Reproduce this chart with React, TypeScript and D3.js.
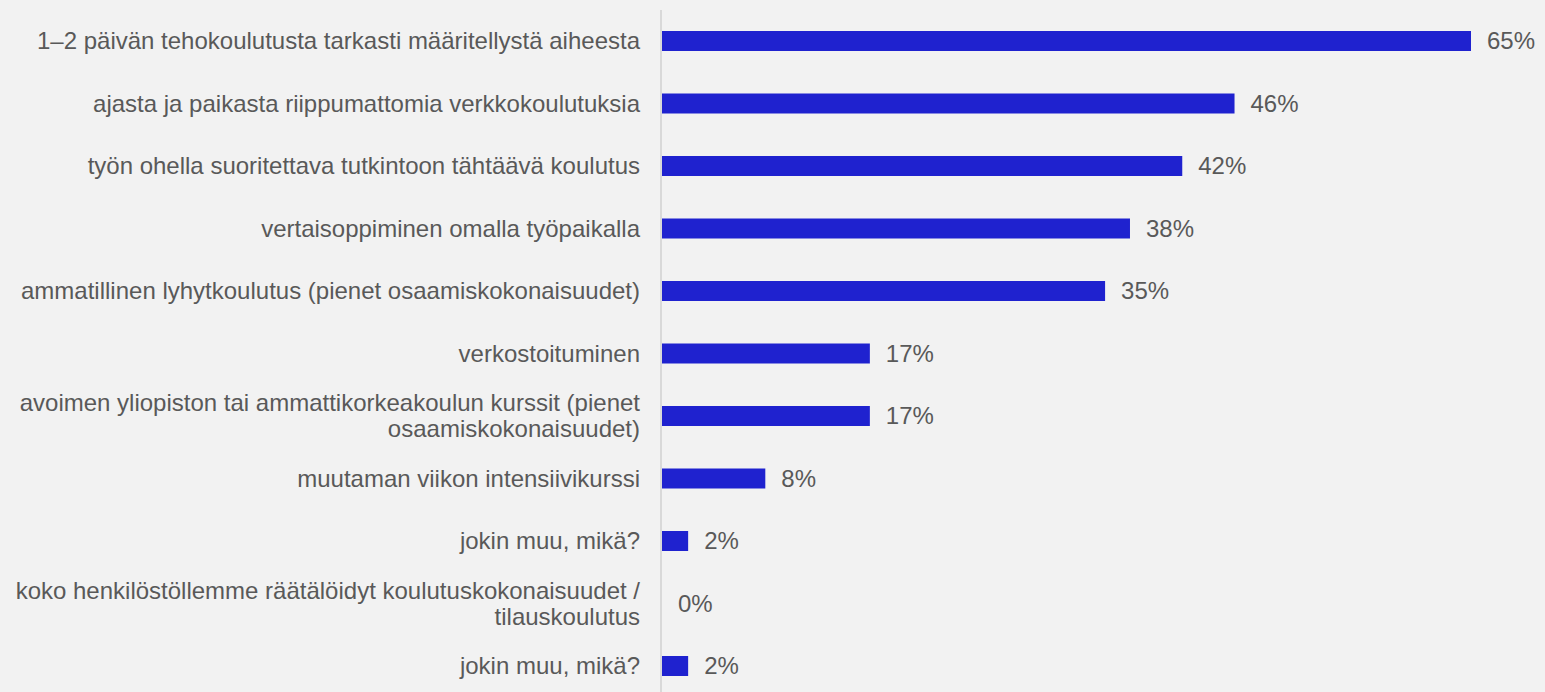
import React from "react";
import * as d3 from "d3";

const categories: string[][] = [
  ["1–2 päivän tehokoulutusta tarkasti määritellystä aiheesta"],
  ["ajasta ja paikasta riippumattomia verkkokoulutuksia"],
  ["työn ohella suoritettava tutkintoon tähtäävä koulutus"],
  ["vertaisoppiminen omalla työpaikalla"],
  ["ammatillinen lyhytkoulutus (pienet osaamiskokonaisuudet)"],
  ["verkostoituminen"],
  ["avoimen yliopiston tai ammattikorkeakoulun kurssit (pienet", "osaamiskokonaisuudet)"],
  ["muutaman viikon intensiivikurssi"],
  ["jokin muu, mikä?"],
  ["koko henkilöstöllemme räätälöidyt koulutuskokonaisuudet /", "tilauskoulutus"],
  ["jokin muu, mikä?"],
];
// bar lengths
const values: number[] = [65, 46, 41.8, 37.6, 35.6, 16.7, 16.7, 8.3, 2.1, 0, 2.1];
// data labels as printed
const valueLabels: string[] = ["65%", "46%", "42%", "38%", "35%", "17%", "17%", "8%", "2%", "0%", "2%"];

const W = 1545;
const H = 692;

export default function App() {
  const idx = values.map((_, i) => i);
  const y = d3.scalePoint<number>().domain(idx).range([41, 666]);
  const x = d3.scaleLinear().domain([0, 65]).range([662, 1471]);
  const barH = 20;
  const font = "'Liberation Sans', Arial, sans-serif";
  const textColor = "#595959";
  const lineH = 26;
  return (
    <svg
      width={W}
      height={H}
      style={{ position: "absolute", left: 0, top: 0, display: "block" }}
    >
      <rect x={0} y={0} width={W} height={H} fill="#f2f2f2" />
      {idx.map((i) => {
        const cy = y(i)!;
        const lines = categories[i];
        const startY = cy - ((lines.length - 1) * lineH) / 2;
        return (
          <g key={i}>
            <text
              x={640}
              textAnchor="end"
              fontFamily={font}
              fontSize={24}
              fill={textColor}
            >
              {lines.map((l, j) => (
                <tspan key={j} x={640} y={startY + j * lineH} dy="0.35em">
                  {l}
                </tspan>
              ))}
            </text>
            {values[i] > 0 && (
              <rect
                x={x(0)}
                y={cy - barH / 2}
                width={x(values[i]) - x(0)}
                height={barH}
                fill="#1f22cf"
              />
            )}
            <text
              x={x(values[i]) + 16}
              y={cy}
              dy="0.35em"
              fontFamily={font}
              fontSize={24}
              fill={textColor}
            >
              {valueLabels[i]}
            </text>
          </g>
        );
      })}
      <line x1={661} x2={661} y1={10} y2={H} stroke="#d9d9d9" strokeWidth={2} />
    </svg>
  );
}
